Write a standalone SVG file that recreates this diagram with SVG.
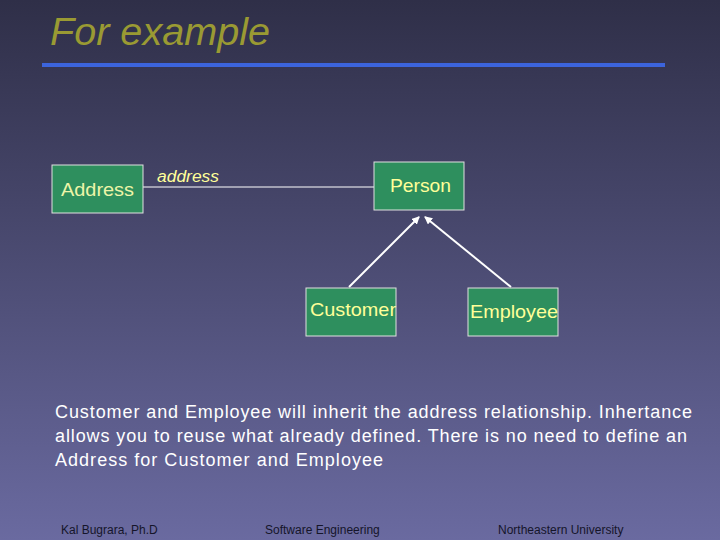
<svg xmlns="http://www.w3.org/2000/svg" width="720" height="540" viewBox="0 0 720 540">
<defs>
<linearGradient id="bg" x1="0" y1="0" x2="0" y2="1">
<stop offset="0" stop-color="#2f2f48"/>
<stop offset="1" stop-color="#6a6aa0"/>
</linearGradient>
<marker id="ah" markerWidth="8" markerHeight="8" refX="7" refY="4" orient="auto" markerUnits="userSpaceOnUse">
<path d="M0,0 L8,4 L0,8 Z" fill="#ffffff"/>
</marker>
<style>
.box{fill:#2e8f5e;stroke:#e0e0e0;stroke-width:1}
.lbl{font-family:"Liberation Sans",Arial,sans-serif;font-size:19px;fill:#ffff99;text-anchor:middle}
.body{font-family:"Liberation Sans",Arial,sans-serif;font-size:18px;fill:#ffffff}
.foot{font-family:"Liberation Sans",Arial,sans-serif;font-size:12px;fill:#15152a}
</style>
</defs>
<rect width="720" height="540" fill="url(#bg)"/>
<text x="50" y="45" font-family="'Liberation Sans',Arial,sans-serif" font-size="38" font-style="italic" fill="#9a9a33" textLength="220" lengthAdjust="spacingAndGlyphs">For example</text>
<rect x="42" y="63" width="623" height="4" fill="#3c64dc"/>
<g id="connectors">
<line x1="143" y1="187" x2="374" y2="187" stroke="#ffffff" stroke-width="1"/>
<line x1="349" y1="287" x2="419" y2="217" stroke="#ffffff" stroke-width="2" marker-end="url(#ah)"/>
<line x1="511" y1="287" x2="425" y2="217" stroke="#ffffff" stroke-width="2" marker-end="url(#ah)"/>
<text x="157" y="182" font-family="'Liberation Sans',Arial,sans-serif" font-size="16" font-style="italic" fill="#ffff99" textLength="62" lengthAdjust="spacingAndGlyphs">address</text>
</g>
<g id="address"><rect class="box" x="52" y="165" width="91" height="48"/><text class="lbl" x="97.5" y="196" textLength="73" lengthAdjust="spacingAndGlyphs" fill="#eef5a8" style="fill:#eef5a8">Address</text></g>
<g id="person"><rect class="box" x="374" y="162" width="90" height="48"/><text class="lbl" x="420.5" y="192" textLength="61" lengthAdjust="spacingAndGlyphs">Person</text></g>
<g id="customer"><rect class="box" x="306" y="288" width="90" height="48"/><text class="lbl" x="353" y="316" textLength="86" lengthAdjust="spacingAndGlyphs">Customer</text></g>
<g id="employee"><rect class="box" x="468" y="288" width="90" height="48"/><text class="lbl" x="514" y="318" textLength="88" lengthAdjust="spacingAndGlyphs">Employee</text></g>
<text class="body" x="55" y="418" textLength="637" lengthAdjust="spacing">Customer and Employee will inherit the address relationship. Inhertance</text>
<text class="body" x="55" y="442" textLength="632" lengthAdjust="spacing">allows you to reuse what already defined. There is no need to define an</text>
<text class="body" x="55" y="466" textLength="328" lengthAdjust="spacing">Address for Customer and Employee</text>
<text class="foot" x="61" y="534">Kal Bugrara, Ph.D</text>
<text class="foot" x="265" y="534">Software Engineering</text>
<text class="foot" x="498" y="534">Northeastern University</text>
</svg>
